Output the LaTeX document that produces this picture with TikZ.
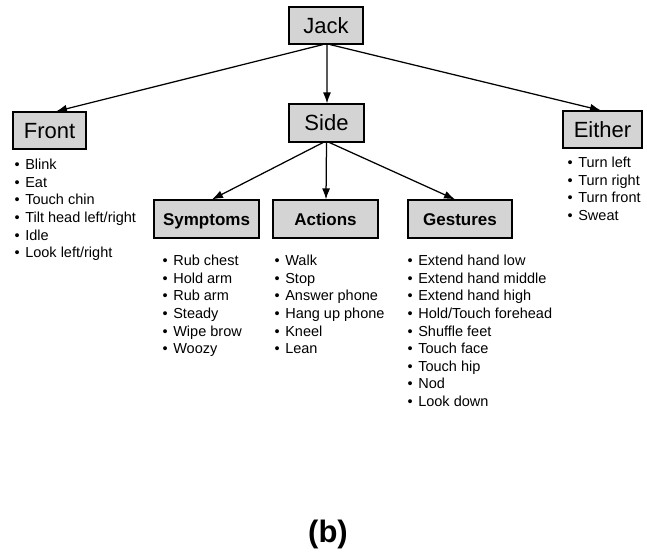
\documentclass[tikz,border=0pt]{standalone}
\usepackage{fontspec}
\setmainfont{Liberation Sans}
\usetikzlibrary{arrows.meta,calc}
\newcommand\itm{\textbullet\hspace{1.5bp} }
\begin{document}
\begin{tikzpicture}[x=1bp,y=-1bp,
 box/.style={draw=black, line width=1.15bp, fill=black!17, inner sep=0pt, text height=17bp, text depth=1.2bp, font=\fontsize{22bp}{26bp}\selectfont},
 subbox/.style={box, text height=13bp, text depth=0.8bp, font=\fontsize{17bp}{20bp}\selectfont\bfseries},
 items/.style={anchor=north west, align=left, inner sep=0pt, font=\fontsize{14.5bp}{17.6bp}\selectfont},
 conn/.style={line width=1.25bp, -{Latex[length=11bp,width=8bp]}}]
\useasboundingbox (0,0) rectangle (647,555);
% boxes
\node[box, minimum width=74bp, minimum height=37bp] (jack) at (326,25.5) {Jack};
\node[box, minimum width=73bp, minimum height=37bp] (front) at (49.5,130.5) {Front};
\node[box, minimum width=75bp, minimum height=38bp] (side) at (326.5,123) {Side};
\node[box, minimum width=79bp, minimum height=37bp] (either) at (602.5,129.5) {Either};
\node[subbox, minimum width=105bp, minimum height=38bp] (symptoms) at (206.5,219) {Symptoms};
\node[subbox, minimum width=105bp, minimum height=38bp] (actions) at (325.5,219) {Actions};
\node[subbox, minimum width=104bp, minimum height=38bp] (gestures) at (460,219) {Gestures};
% lists
\node[items] (frontlist) at (14.5,159) {\itm Blink\\ \itm Eat\\ \itm Touch chin\\ \itm Tilt head left/right\\ \itm Idle\\ \itm Look left/right};
\node[items] (eitherlist) at (567.5,157) {\itm Turn left\\ \itm Turn right\\ \itm Turn front\\ \itm Sweat};
\node[items] (symlist) at (162.5,255) {\itm Rub chest\\ \itm Hold arm\\ \itm Rub arm\\ \itm Steady\\ \itm Wipe brow\\ \itm Woozy};
\node[items] (actlist) at (274.5,255) {\itm Walk\\ \itm Stop\\ \itm Answer phone\\ \itm Hang up phone\\ \itm Kneel\\ \itm Lean};
\node[items] (gestlist) at (407.5,255) {\itm Extend hand low\\ \itm Extend hand middle\\ \itm Extend hand high\\ \itm Hold/Touch forehead\\ \itm Shuffle feet\\ \itm Touch face\\ \itm Touch hip\\ \itm Nod\\ \itm Look down};
% caption
\node[font=\fontsize{31bp}{36bp}\selectfont\bfseries, inner sep=0pt] (caption) at (328,534) {(b)};
% connectors
\draw[conn] ([xshift=-3bp]jack.south) -- ([xshift=6.5bp]front.north);
\draw[conn] ([xshift=1bp]jack.south) -- ([xshift=0.5bp]side.north);
\draw[conn] ([xshift=4bp]jack.south) -- ([xshift=-1.5bp]either.north);
\draw[conn] ([xshift=-3.5bp]side.south) -- ([xshift=5.5bp]symptoms.north);
\draw[conn] (side.south) -- ([xshift=0.5bp]actions.north);
\draw[conn] ([xshift=3bp]side.south) -- ([xshift=-5bp]gestures.north);
\end{tikzpicture}
\end{document}
